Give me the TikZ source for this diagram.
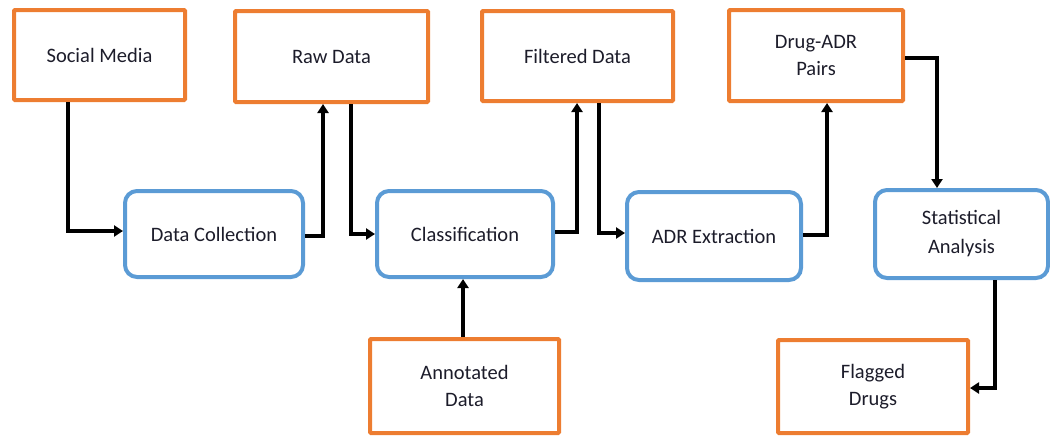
\documentclass[tikz,border=0pt]{standalone}
\usepackage{fontspec}
\setmainfont{Carlito}
\usetikzlibrary{arrows.meta}
\definecolor{dataorange}{HTML}{ED7D31}
\definecolor{procblue}{HTML}{5B9BD5}
\definecolor{labelink}{HTML}{1C1C2A}
\tikzset{
  databox/.style={draw=dataorange, line width=4pt, rectangle, rounded corners=1pt,
    inner sep=0pt, align=center, font=\fontsize{20.5}{27}\selectfont, text=labelink},
  procbox/.style={draw=procblue, line width=4pt, rectangle, rounded corners=12pt,
    inner sep=0pt, align=center, font=\fontsize{20.5}{29}\selectfont, text=labelink},
  flow/.style={draw=black, line width=4.5pt, line join=miter,
    -{Triangle[length=9pt,width=11pt]}},
  thinflow/.style={flow, line width=3.2pt}
}
\begin{document}
\begin{tikzpicture}[x=1pt, y=-1pt]
  \useasboundingbox (0,0) rectangle (1050,437);

  % data stores (orange)
  \node[databox, minimum width=171pt, minimum height=90pt] (sm)  at (99.5,55)  {Social Media};
  \node[databox, minimum width=193pt, minimum height=91pt] (raw) at (331.5,56.5) {Raw Data};
  \node[databox, minimum width=191pt, minimum height=90pt] (flt) at (577.5,56) {Filtered Data};
  \node[databox, minimum width=174pt, minimum height=91pt] (pairs) at (816,55.5) {Drug-ADR\\Pairs};
  \node[databox, minimum width=189pt, minimum height=94pt] (ann) at (464.5,386) {Annotated\\Data};
  \node[databox, minimum width=190pt, minimum height=93pt] (flag) at (873,386.5) {Flagged\\Drugs};

  % processing steps (blue)
  \node[procbox, minimum width=178pt, minimum height=86pt] (dc)  at (214,234) {Data Collection};
  \node[procbox, minimum width=176pt, minimum height=86pt] (cls) at (465,234) {Classification};
  \node[procbox, minimum width=174pt, minimum height=88pt] (ext) at (714,236) {ADR Extraction};
  \node[procbox, minimum width=173pt, minimum height=88pt] (sta) at (961.5,234) {Statistical\\Analysis};

  % pipeline connectors
  \draw[flow] ([xshift=-31.5pt]sm.south) |- ([yshift=3pt]dc.west);
  \draw[flow] ([yshift=-2pt]dc.east) -| ([xshift=-8.5pt]raw.south);
  \draw[thinflow] ([xshift=19.5pt]raw.south) |- ([yshift=0pt]cls.west);
  \draw[flow] ([yshift=2pt]cls.east) -| ([xshift=-0.5pt]flt.south);
  \draw[thinflow] ([xshift=21.5pt]flt.south) |- ([yshift=3pt]ext.west);
  \draw[flow] ([yshift=1pt]ext.east) -| ([xshift=11pt]pairs.south);
  \draw[flow] ([yshift=-2.5pt]pairs.east) -| ([xshift=-24.5pt]sta.north);
  \draw[flow] ([xshift=33.5pt]sta.south) |- ([yshift=-1.5pt]flag.east);
  \draw[thinflow] ([xshift=-1.5pt]ann.north) -- ([xshift=-2pt]cls.south);
\end{tikzpicture}
\end{document}
